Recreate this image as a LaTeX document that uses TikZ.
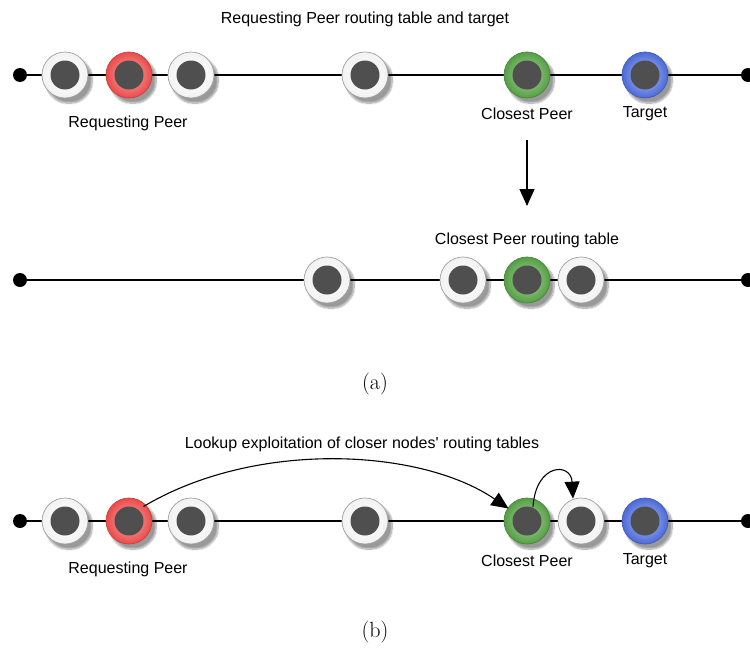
\documentclass[tikz,border=0pt]{standalone}
\usepackage{fontspec}
\newfontfamily\labelfont{Liberation Sans}
\usetikzlibrary{arrows.meta,shadows.blur}

\definecolor{coregray}{HTML}{4F4F4F}
\definecolor{ringedge}{HTML}{A0A0A0}
\definecolor{redout}{HTML}{EC4A4A}
\definecolor{redin}{HTML}{F7B0B0}
\definecolor{greenout}{HTML}{559E45}
\definecolor{greenin}{HTML}{B0D8A2}
\definecolor{blueout}{HTML}{4C6AD8}
\definecolor{bluein}{HTML}{B0C0F4}

\tikzset{
  peer/.style={circle, minimum size=46pt, inner sep=0pt, draw=ringedge, line width=0.7pt,
    blur shadow={shadow xshift=4pt, shadow yshift=-5pt, shadow blur steps=10,
      shadow blur extra rounding=3pt, shadow opacity=40},
    path picture={\fill[coregray] (path picture bounding box.center) circle (14.5pt);}},
  plainpeer/.style={peer, inner color=white, outer color=gray!10},
  redpeer/.style={peer, draw=redout!85!black, inner color=redin, outer color=redout},
  greenpeer/.style={peer, draw=greenout!85!black, inner color=greenin, outer color=greenout},
  bluepeer/.style={peer, draw=blueout!85!black, inner color=bluein, outer color=blueout},
  enddot/.style={circle, fill=black, minimum size=14pt, inner sep=0pt},
  ringline/.style={line width=2.6pt, black},
  caption/.style={font=\labelfont\fontsize{16}{19}\selectfont, inner sep=0pt},
  subcap/.style={font=\fontsize{22}{26}\selectfont, inner sep=0pt},
  bigtip/.style={-{Triangle[length=17pt,width=15pt]}, line width=1.1pt},
}

\begin{document}
\begin{tikzpicture}[x=1pt,y=-1pt]
\path[use as bounding box, clip] (0,0) rectangle (750,648);

% ---------- (a) upper ring: requesting peer's view ----------
\node[caption] (t1) at (365,19) {Requesting Peer routing table and target};
\node[enddot] (l1) at (20,75) {};
\node[enddot] (r1) at (748,75) {};
\draw[ringline] (l1) -- (r1);
\node[plainpeer] (a1) at (65,75) {};
\node[redpeer]   (rp1) at (129,75) {};
\node[plainpeer] (a3) at (191,75) {};
\node[plainpeer] (a4) at (365,75) {};
\node[greenpeer] (cp1) at (527,75) {};
\node[bluepeer]  (tg1) at (645,75) {};
\node[caption] (rpl1) at (128,123) {Requesting Peer};
\node[caption] (cpl1) at (527,114) {Closest Peer};
\node[caption] (tgl1) at (645,114) {Target};

% ---------- (a) lower ring: closest peer's view ----------
\node[caption] (t2) at (527,240) {Closest Peer routing table};
\coordinate (downend) at (527,206);
\draw[bigtip] ([yshift=-20pt]cpl1.south) -- (downend);
\node[enddot] (l2) at (20,280) {};
\node[enddot] (r2) at (748,280) {};
\draw[ringline] (l2) -- (r2);
\node[plainpeer] (b1) at (327,280) {};
\node[plainpeer] (b2) at (463,280) {};
\node[greenpeer] (cp2) at (527,280) {};
\node[plainpeer] (b4) at (581,280) {};

\node[subcap] (capa) at (375,384) {(a)};

% ---------- (b) lookup ----------
\node[caption] (t3) at (362,444) {Lookup exploitation of closer nodes' routing tables};
\node[enddot] (l3) at (20,521) {};
\node[enddot] (r3) at (748,521) {};
\draw[ringline] (l3) -- (r3);
\node[plainpeer] (c1) at (65,521) {};
\node[redpeer]   (rp3) at (129,521) {};
\node[plainpeer] (c3) at (191,521) {};
\node[plainpeer] (c4) at (365,521) {};
\node[greenpeer] (cp3) at (527,521) {};
\node[plainpeer] (c6) at (581,521) {};
\node[bluepeer]  (tg3) at (645,521) {};
\node[caption] (rpl3) at (128,569) {Requesting Peer};
\node[caption] (cpl3) at (527,561) {Closest Peer};
\node[caption] (tgl3) at (645,561) {Target};

\draw[bigtip] ([shift={(-2pt,-2pt)}]rp3.north east) .. controls (255,440) and (420,448) .. ([shift={(-2pt,-4pt)}]cp3.north west);
\draw[bigtip] ([shift={(6pt,-9pt)}]cp3.north) .. controls (536,463) and (571,462) .. ([shift={(-8pt,-1pt)}]c6.north);

\node[subcap] (capb) at (375,632) {(b)};
\end{tikzpicture}
\end{document}
